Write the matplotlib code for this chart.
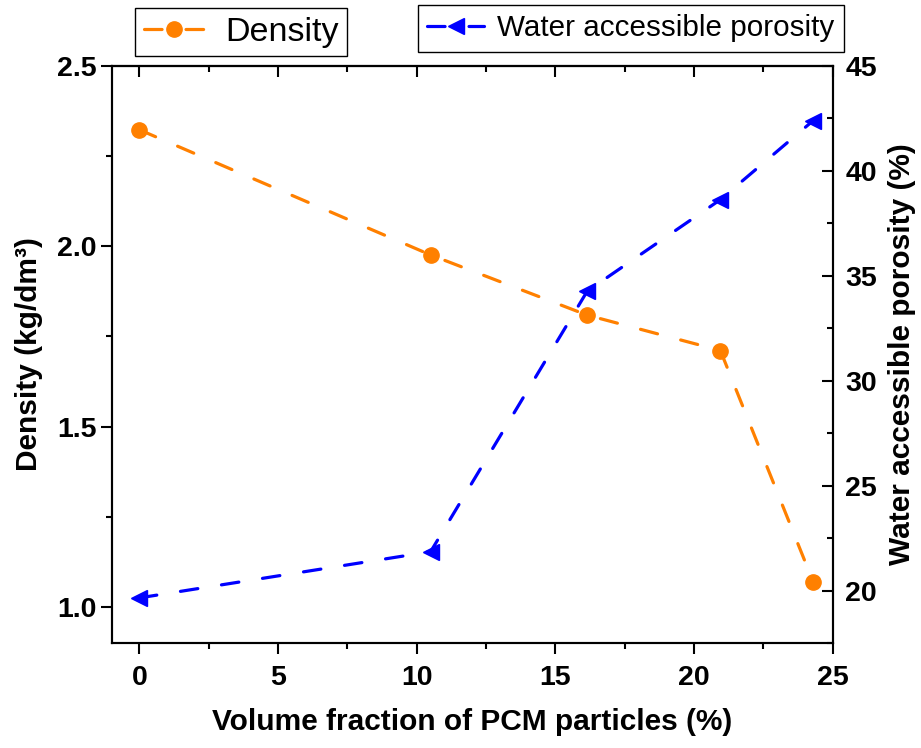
import matplotlib
matplotlib.use('Agg')
import matplotlib.pyplot as plt
from matplotlib.ticker import MultipleLocator

plt.rcParams['font.family'] = ['Liberation Sans', 'DejaVu Sans']

# values
vol_frac = [0, 10.5, 16.15, 20.95, 24.3]
density = [2.323, 1.976, 1.809, 1.711, 1.069]
porosity = [19.65, 21.85, 34.27, 38.63, 42.4]

orange = '#FF8000'
blue = '#0000FF'

fig = plt.figure(figsize=(9.21, 7.48), dpi=100)
ax = fig.add_axes([0.1213, 0.1404, 0.7828, 0.7714])
ax2 = ax.twinx()

l1, = ax.plot(vol_frac, density, color=orange, lw=2.3, marker='o', ms=11,
              dashes=(5.5, 7.5), dash_capstyle='round')
l2, = ax2.plot(vol_frac, porosity, color=blue, lw=2.3, marker='<', ms=12,
               dashes=(5.5, 7.5), dash_capstyle='round')

ax.set_xlim(-1, 25)
ax.set_ylim(0.9, 2.5)
ax2.set_ylim(17.5, 45)

ax.xaxis.set_major_locator(MultipleLocator(5))
ax.xaxis.set_minor_locator(MultipleLocator(2.5))
ax.yaxis.set_major_locator(MultipleLocator(0.5))
ax.yaxis.set_minor_locator(MultipleLocator(0.25))
ax2.yaxis.set_major_locator(MultipleLocator(5))
ax2.yaxis.set_minor_locator(MultipleLocator(2.5))

for a in (ax, ax2):
    for s in a.spines.values():
        s.set_linewidth(1.5)

ax.tick_params(which='major', direction='out', length=8, width=1.5,
               labelsize=20.5, pad=3)
ax.tick_params(which='minor', direction='out', length=4.5, width=1.5)
ax.tick_params(axis='x', pad=8)
ax2.tick_params(which='major', direction='in', length=8, width=1.5,
                labelsize=20.5, pad=9)
ax2.tick_params(which='minor', direction='in', length=4.5, width=1.5)

top = ax.secondary_xaxis('top')
top.xaxis.set_major_locator(MultipleLocator(5))
top.xaxis.set_minor_locator(MultipleLocator(2.5))
top.tick_params(which='major', direction='in', length=8, width=1.5, labeltop=False)
top.tick_params(which='minor', direction='in', length=4.5, width=1.5)
top.spines['top'].set_linewidth(1.5)

for lab in ax.get_xticklabels() + ax.get_yticklabels() + ax2.get_yticklabels():
    lab.set_fontweight('bold')

ax.set_xlabel('Volume fraction of PCM particles (%)', fontsize=21.5,
              fontweight='bold', labelpad=12)
ax.set_ylabel('Density (kg/dm³)', fontsize=21.5, fontweight='bold', labelpad=10)
ax2.set_ylabel('Water accessible porosity (%)', fontsize=21.5,
               fontweight='bold', labelpad=8)

leg1 = fig.legend([l1], ['Density'], loc='upper left',
                  bbox_to_anchor=(135 / 921, 1 - 8 / 748), fontsize=24.5,
                  fancybox=False, edgecolor='black', framealpha=1,
                  handlelength=1.8, handletextpad=0.6, borderpad=0.25,
                  borderaxespad=0)
leg2 = fig.legend([l2], ['Water accessible porosity'], loc='upper left',
                  bbox_to_anchor=(418 / 921, 1 - 5 / 748), fontsize=21.3,
                  fancybox=False, edgecolor='black', framealpha=1,
                  handlelength=1.9, handletextpad=0.45, borderpad=0.32,
                  borderaxespad=0)
for lg in (leg1, leg2):
    lg.get_frame().set_linewidth(1.0)

fig.savefig('out.png', dpi=100)
